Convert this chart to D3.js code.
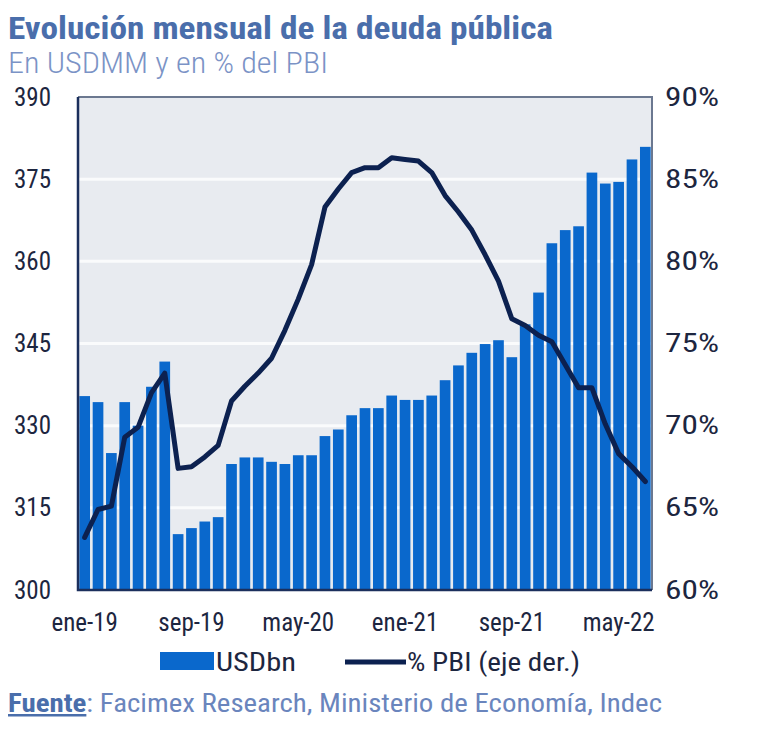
<!DOCTYPE html>
<html><head><meta charset="utf-8">
<script src="https://cdn.jsdelivr.net/npm/d3@7"></script>
<style>body{margin:0;background:#fff;} text{font-family:"Roboto Condensed","Roboto","Liberation Sans",sans-serif;}</style>
</head><body><svg id="c" width="768" height="745"></svg>
<script>
const months = ["ene-19","feb-19","mar-19","abr-19","may-19","jun-19","jul-19","ago-19","sep-19","oct-19","nov-19","dic-19",
"ene-20","feb-20","mar-20","abr-20","may-20","jun-20","jul-20","ago-20","sep-20","oct-20","nov-20","dic-20",
"ene-21","feb-21","mar-21","abr-21","may-21","jun-21","jul-21","ago-21","sep-21","oct-21","nov-21","dic-21",
"ene-22","feb-22","mar-22","abr-22","may-22","jun-22","jul-22"];
const usdbn = [335.4,334.3,325.0,334.3,330.0,337.1,341.7,310.2,311.3,312.5,313.3,323.0,
324.2,324.2,323.4,323.0,324.6,324.6,328.1,329.3,331.9,333.2,333.2,335.5,
334.7,334.7,335.5,338.3,341.0,343.3,344.9,345.6,342.5,348.5,354.3,363.3,
365.7,366.4,376.2,374.2,374.5,378.6,380.9];
const pctPBI = [63.2,64.9,65.1,69.3,69.9,72.0,73.2,67.4,67.5,68.1,68.8,71.5,
72.4,73.2,74.1,75.8,77.7,79.8,83.3,84.4,85.4,85.7,85.7,86.3,
86.2,86.1,85.4,84.0,83.0,81.9,80.4,78.8,76.5,76.1,75.5,75.1,
73.7,72.3,72.3,70.1,68.3,67.5,66.6];
const xTickLabels = ["ene-19","sep-19","may-20","ene-21","sep-21","may-22"];
const leftTicks = [300,315,330,345,360,375,390];
const rightTicks = [60,65,70,75,80,85,90];

const svg = d3.select("#c");
const L=78, R=652, T=97, B=590;
const x = d3.scaleBand().domain(months).range([L,R]).paddingInner(0.2).paddingOuter(0.1);
const y = d3.scaleLinear().domain([300,390]).range([B,T]);
const y2 = d3.scaleLinear().domain([60,90]).range([B,T]);
const txt = "#1d2640";

// title
svg.append("text").attr("x",8).attr("y",39).attr("font-size",31).attr("font-weight",700)
  .attr("fill","#4a6eab").attr("textLength",545).attr("lengthAdjust","spacingAndGlyphs")
  .text("Evolución mensual de la deuda pública");
svg.append("text").attr("x",8).attr("y",73).attr("font-size",29).attr("font-weight",300)
  .attr("fill","#7b93c6").attr("textLength",320).attr("lengthAdjust","spacingAndGlyphs")
  .text("En USDMM y en % del PBI");

// plot bg
svg.append("rect").attr("x",L).attr("y",T).attr("width",R-L).attr("height",B-T).attr("fill","#e8ebf0");
// gridlines
svg.append("g").selectAll("line").data(leftTicks.slice(1,-1)).join("line")
  .attr("x1",L).attr("x2",R).attr("y1",d=>y(d)).attr("y2",d=>y(d))
  .attr("stroke","#fafbfc").attr("stroke-width",3);

// bars
svg.append("g").selectAll("rect").data(months).join("rect")
  .attr("x",d=>x(d)).attr("width",x.bandwidth())
  .attr("y",(d,i)=>y(usdbn[i])).attr("height",(d,i)=>B-y(usdbn[i]))
  .attr("fill","#0a68cc");

// border
svg.append("path").attr("d",`M${L},${T}H${R}V${B}`).attr("fill","none").attr("stroke","#6b7890").attr("stroke-width",2);
svg.append("path").attr("d",`M${L},${T}V${B}H${R}`).attr("fill","none").attr("stroke","#1b2f5c").attr("stroke-width",2.5);

// line
const line = d3.line().x((d,i)=>x(months[i])+x.bandwidth()/2).y(d=>y2(d)).curve(d3.curveLinear);
svg.append("path").datum(pctPBI).attr("d",line).attr("fill","none")
  .attr("stroke","#0c2150").attr("stroke-width",5).attr("stroke-linejoin","round").attr("stroke-linecap","round");

// axes
const axL = d3.axisLeft(y).tickValues(leftTicks).tickSize(0).tickPadding(0).tickFormat(d3.format("d"));
const gL = svg.append("g").attr("transform",`translate(51,0)`).call(axL);
gL.select(".domain").remove();
gL.selectAll("text").attr("font-size",25).attr("fill",txt).attr("font-family",null);

const axR = d3.axisRight(y2).tickValues(rightTicks).tickSize(0).tickPadding(0).tickFormat(d=>d+"%");
const gR = svg.append("g").attr("transform",`translate(665,0)`).call(axR);
gR.select(".domain").remove();
gR.selectAll("text").attr("font-size",25).attr("fill",txt).attr("font-family",null)
  .attr("textLength",54).attr("lengthAdjust","spacingAndGlyphs");

const axB = d3.axisBottom(x).tickValues(xTickLabels).tickSize(0).tickPadding(0);
const gB = svg.append("g").attr("transform",`translate(0,613)`).call(axB);
gB.select(".domain").remove();
gB.selectAll("text").attr("font-size",25).attr("fill",txt).attr("font-family",null);

// legend
svg.append("rect").attr("x",160).attr("y",652).attr("width",54).attr("height",18).attr("fill","#0a68cc");
svg.append("text").attr("x",216).attr("y",671).attr("font-size",25).attr("fill",txt)
  .attr("textLength",80).attr("lengthAdjust","spacingAndGlyphs").text("USDbn");
svg.append("line").attr("x1",345).attr("x2",406).attr("y1",662).attr("y2",662).attr("stroke","#0c2150").attr("stroke-width",5);
svg.append("text").attr("x",407).attr("y",671).attr("font-size",25).attr("fill",txt)
  .attr("textLength",173).attr("lengthAdjust","spacingAndGlyphs").text("% PBI (eje der.)");

// source
const src = svg.append("text").attr("x",8).attr("y",712).attr("font-size",25).attr("fill","#6a85bd")
  .attr("textLength",654).attr("lengthAdjust","spacingAndGlyphs");
src.append("tspan").attr("font-weight",700).attr("fill","#4a6eab").attr("text-decoration","underline").text("Fuente");
src.append("tspan").text(": Facimex Research, Ministerio de Economía, Indec");
</script></body></html>
